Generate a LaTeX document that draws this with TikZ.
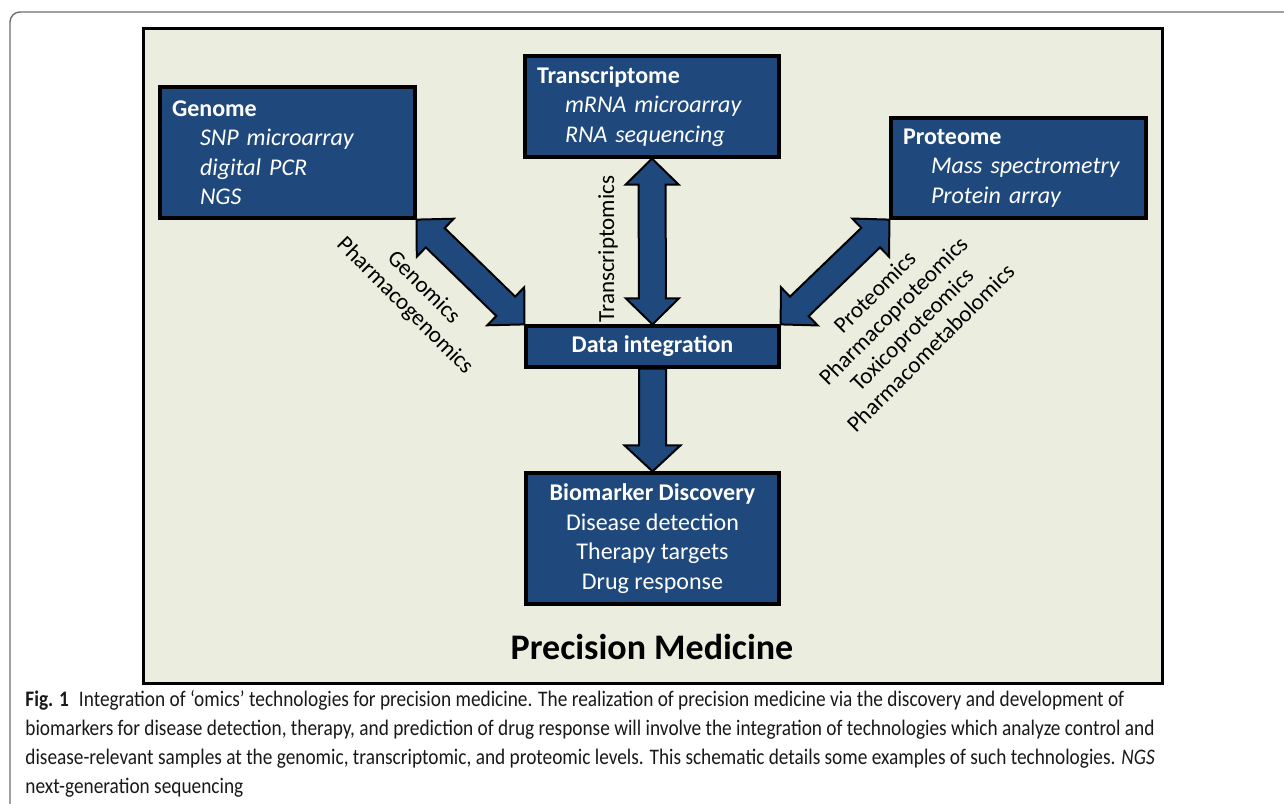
\documentclass[tikz,border=0pt]{standalone}
\usepackage{fontspec}
\setmainfont{Carlito}
\newfontfamily\capfont[FakeStretch=0.87]{Carlito}
\usetikzlibrary{calc}

\definecolor{omicblue}{HTML}{1F497D}
\definecolor{panelgreen}{HTML}{EBEEDE}
\definecolor{framegray}{HTML}{6D6E71}

% item line inside a box
\newcommand{\omicitem}[1]{\\\hspace*{14pt}\textit{#1}}

\tikzset{
  omicbox/.style={draw=black, line width=1.6pt, fill=omicblue, text=white, inner sep=0pt,
    font=\fontsize{12}{14.75}\selectfont},
  omiclabel/.style={align=center, inner sep=0pt, font=\fontsize{11.5}{13.2}\selectfont},
  % fat arrow with a head at both ends
  fatboth/.style={draw=black, line width=1pt, fill=omicblue, to path={
    -- ($(\tikztostart)!13pt!(\tikztotarget)!13.25pt!90:(\tikztotarget)$)
    -- ($(\tikztostart)!13pt!(\tikztotarget)!6.75pt!90:(\tikztotarget)$)
    -- ($(\tikztotarget)!13pt!(\tikztostart)!6.75pt!-90:(\tikztostart)$)
    -- ($(\tikztotarget)!13pt!(\tikztostart)!13.25pt!-90:(\tikztostart)$)
    -- (\tikztotarget)
    -- ($(\tikztotarget)!13pt!(\tikztostart)!13.25pt!90:(\tikztostart)$)
    -- ($(\tikztotarget)!13pt!(\tikztostart)!6.75pt!90:(\tikztostart)$)
    -- ($(\tikztostart)!13pt!(\tikztotarget)!6.75pt!-90:(\tikztotarget)$)
    -- ($(\tikztostart)!13pt!(\tikztotarget)!13.25pt!-90:(\tikztotarget)$)
    -- cycle}},
  % fat arrow with one head
  fatone/.style={draw=black, line width=1pt, fill=omicblue, to path={
    -- ($(\tikztostart)!6.75pt!90:(\tikztotarget)$)
    -- ($(\tikztotarget)!13pt!(\tikztostart)!6.75pt!-90:(\tikztostart)$)
    -- ($(\tikztotarget)!13pt!(\tikztostart)!14pt!-90:(\tikztostart)$)
    -- (\tikztotarget)
    -- ($(\tikztotarget)!13pt!(\tikztostart)!14pt!90:(\tikztostart)$)
    -- ($(\tikztotarget)!13pt!(\tikztostart)!6.75pt!90:(\tikztostart)$)
    -- ($(\tikztostart)!6.75pt!-90:(\tikztotarget)$)
    -- cycle}}
}

\begin{document}
\begin{tikzpicture}[x=0.5pt, y=-0.5pt]
\useasboundingbox (0,0) rectangle (1284,803);
\clip (0,0) rectangle (1284,803);
\fill[white] (0,0) rectangle (1284,803);
\draw[framegray, line width=0.7pt, rounded corners=5pt] (10,12) rectangle (1320,840);
\draw[fill=panelgreen, line width=1.5pt] (143,28) rectangle (1162,683);

% boxes
\node[omicbox, minimum width=127.5pt, minimum height=65.5pt, text width=115.5pt, align=left] (genome) at (287.5,152.5)
  {\textbf{Genome}\omicitem{SNP microarray}\omicitem{digital PCR}\omicitem{NGS}};
\node[omicbox, minimum width=127pt, minimum height=50.5pt, text width=115pt, align=left] (trans) at (652,106.5)
  {\textbf{Transcriptome}\omicitem{mRNA microarray}\omicitem{RNA sequencing}};
\node[omicbox, minimum width=127.5pt, minimum height=50pt, text width=115.5pt, align=left] (prot) at (1018.5,168)
  {\textbf{Proteome}\omicitem{Mass spectrometry}\omicitem{Protein array}};
\node[omicbox, minimum width=126.5pt, minimum height=20.5pt] (data) at (652.5,346.5) {\textbf{Data integration}};
\node[omicbox, minimum width=126.5pt, minimum height=65.5pt, align=center] (bio) at (652.5,538.5)
  {\textbf{Biomarker Discovery}\\Disease detection\\Therapy targets\\Drug response};

% arrows
\draw[fatboth] (genome.south east) to (data.north west);
\draw[fatboth] (trans.south) to (data.north);
\draw[fatboth] (prot.south west) to (data.north east);
\draw[fatone] (data.south) to (bio.north);

% labels
\node[omiclabel, rotate=-45] (genlab) at (414,297) {Genomics\\Pharmacogenomics};
\node[omiclabel, rotate=90] (translab) at (608,249) {Transcriptomics};
\node[omiclabel, rotate=45] (protlab) at (902.5,320)
  {Proteomics\\Pharmacoproteomics\\Toxicoproteomics\\Pharmacometabolomics};

\node[font=\bfseries\fontsize{18}{20}\selectfont] (title) at (652,647) {Precision Medicine};

% caption
\node[anchor=north west, align=left, inner sep=0pt, text=black!90,
  font=\capfont\fontsize{11.1}{14.5}\selectfont] (caption) at (25,690)
  {\textbf{Fig. 1}\hspace{5pt}Integration of ‘omics’ technologies for precision medicine. The realization of precision medicine via the discovery and development of\\
   biomarkers for disease detection, therapy, and prediction of drug response will involve the integration of technologies which analyze control and\\
   disease-relevant samples at the genomic, transcriptomic, and proteomic levels. This schematic details some examples of such technologies. \textit{NGS}\\
   next-generation sequencing};
\end{tikzpicture}
\end{document}
